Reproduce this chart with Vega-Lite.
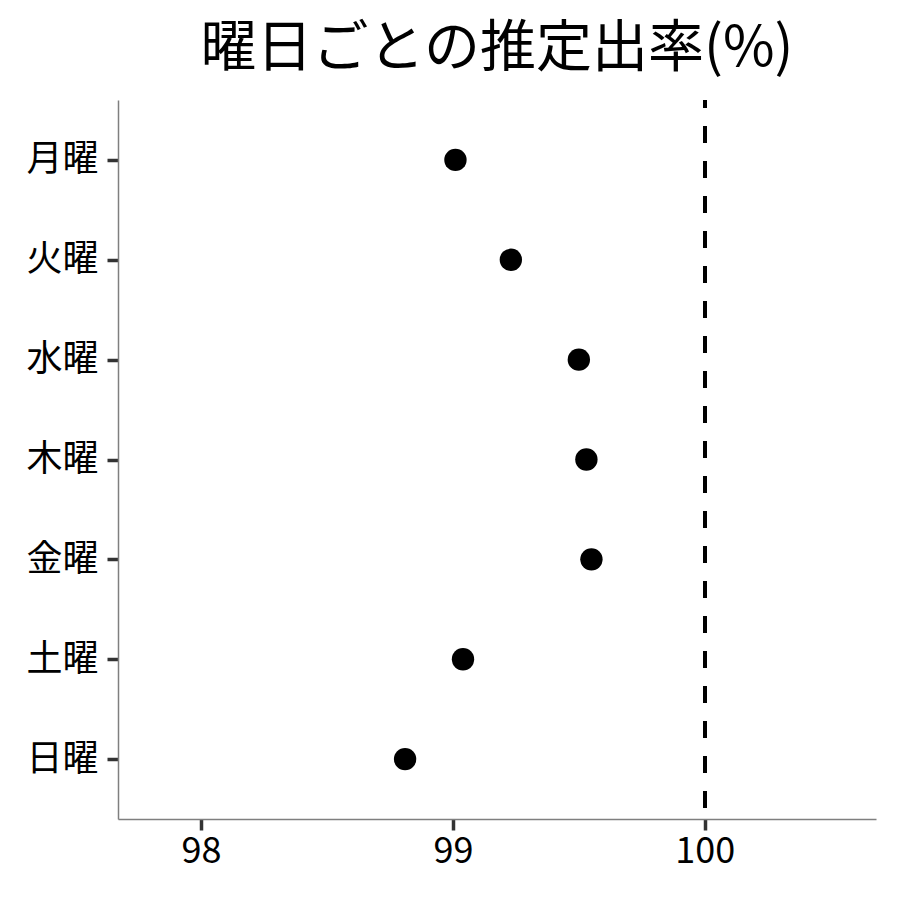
{
  "$schema": "https://vega.github.io/schema/vega-lite/v6.json",
  "width": 758,
  "height": 719,
  "autosize": {"type": "none"},
  "padding": {"left": 118, "top": 100, "right": 24, "bottom": 81},
  "background": "white",
  "title": {
    "text": "曜日ごとの推定出率(%)",
    "font": "Noto Sans CJK JP",
    "fontSize": 56,
    "fontWeight": "normal",
    "color": "black",
    "anchor": "middle",
    "offset": 20
  },
  "config": {
    "view": {"stroke": null},
    "font": "Noto Sans CJK JP"
  },
  "data": {
    "values": [
      {"day": "月曜", "rate": 99.01},
      {"day": "火曜", "rate": 99.23},
      {"day": "水曜", "rate": 99.50},
      {"day": "木曜", "rate": 99.53},
      {"day": "金曜", "rate": 99.55},
      {"day": "土曜", "rate": 99.04},
      {"day": "日曜", "rate": 98.81}
    ]
  },
  "layer": [
    {
      "mark": {"type": "rule", "color": "black", "strokeWidth": 3.5, "strokeDash": [17, 18], "strokeDashOffset": 9},
      "encoding": {"x": {"datum": 100, "type": "quantitative"}}
    },
    {
      "mark": {"type": "point", "filled": true, "color": "black", "opacity": 1, "size": 500},
      "encoding": {
        "x": {
          "field": "rate",
          "type": "quantitative",
          "scale": {"domain": [97.67, 100.68], "nice": false, "zero": false},
          "axis": {
            "title": null,
            "values": [98, 99, 100],
            "format": "d",
            "grid": false,
            "domainColor": "#7f7f7f",
            "domainWidth": 1.5,
            "tickColor": "#333333",
            "tickWidth": 3.5,
            "tickSize": 11,
            "labelFont": "Noto Sans CJK JP",
            "labelFontSize": 36,
            "labelColor": "black",
            "labelPadding": 4
          }
        },
        "y": {
          "field": "day",
          "type": "nominal",
          "sort": ["月曜", "火曜", "水曜", "木曜", "金曜", "土曜", "日曜"],
          "scale": {"type": "point", "padding": 0.6},
          "axis": {
            "title": null,
            "grid": false,
            "domainColor": "#7f7f7f",
            "domainWidth": 1.5,
            "tickColor": "#333333",
            "tickWidth": 3.5,
            "tickSize": 11,
            "labelFont": "Noto Sans CJK JP",
            "labelFontSize": 36,
            "labelColor": "black",
            "labelPadding": 9
          }
        }
      }
    }
  ]
}
